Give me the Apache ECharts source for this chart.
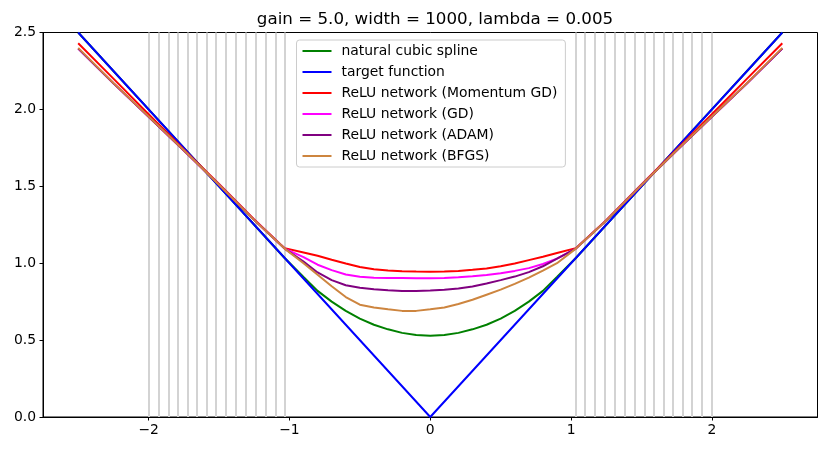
<!DOCTYPE html>
<html>
<head>
<meta charset="utf-8">
<script src="https://cdn.jsdelivr.net/npm/echarts@6/dist/echarts.min.js"></script>
<style>html,body{margin:0;padding:0;background:#fff}#c{width:826px;height:451px}</style>
</head>
<body>
<div id="c"></div>
<script>
const titleText = 'gain = 5.0, width = 1000, lambda = 0.005';
const xTicks = [-2, -1, 0, 1, 2];
const yTicks = [0, 0.5, 1.0, 1.5, 2.0, 2.5];
const knots = [-2, -1.931, -1.862, -1.793, -1.724, -1.655, -1.586, -1.517, -1.448, -1.379, -1.310, -1.241, -1.172, -1.103, -1.034,
  1.034, 1.103, 1.172, 1.241, 1.310, 1.379, 1.448, 1.517, 1.586, 1.655, 1.724, 1.793, 1.862, 1.931, 2];
const xs = [-2.5, -2.25, -2.0, -1.75, -1.5, -1.25, -1.034, -0.9, -0.8, -0.7, -0.6, -0.5, -0.4, -0.3, -0.2, -0.1, 0,
  0.1, 0.2, 0.3, 0.4, 0.5, 0.6, 0.7, 0.8, 0.9, 1.034, 1.25, 1.5, 1.75, 2.0, 2.25, 2.5];
const splineY = [2.5, 2.25, 2.0, 1.75, 1.5, 1.25, 1.034, 0.91, 0.82, 0.75, 0.69, 0.64, 0.60, 0.57, 0.547, 0.533, 0.529,
  0.533, 0.547, 0.57, 0.60, 0.64, 0.69, 0.75, 0.82, 0.91, 1.034, 1.25, 1.5, 1.75, 2.0, 2.25, 2.5];
const targetX = [-2.5, 0, 2.5];
const targetY = [2.5, 0, 2.5];
const momentumY = [2.43, 2.20, 1.968, 1.74, 1.515, 1.285, 1.098, 1.07, 1.048, 1.022, 0.998, 0.975, 0.96, 0.952, 0.948, 0.946, 0.945,
  0.946, 0.95, 0.957, 0.966, 0.98, 0.998, 1.02, 1.042, 1.066, 1.098, 1.28, 1.512, 1.74, 1.968, 2.20, 2.43];
const gdY = [2.395, 2.17, 1.952, 1.733, 1.51, 1.28, 1.095, 1.04, 0.99, 0.955, 0.927, 0.912, 0.906, 0.904, 0.903, 0.902, 0.902,
  0.904, 0.908, 0.915, 0.924, 0.935, 0.95, 0.968, 0.995, 1.03, 1.095, 1.278, 1.508, 1.733, 1.952, 2.17, 2.395];
const adamY = [2.395, 2.17, 1.952, 1.733, 1.51, 1.28, 1.095, 1.01, 0.94, 0.89, 0.857, 0.84, 0.83, 0.824, 0.82, 0.82, 0.822,
  0.827, 0.835, 0.848, 0.868, 0.89, 0.913, 0.942, 0.98, 1.03, 1.095, 1.278, 1.508, 1.733, 1.952, 2.17, 2.395];
const bfgsY = [2.40, 2.172, 1.954, 1.734, 1.51, 1.28, 1.095, 1.0, 0.925, 0.85, 0.78, 0.73, 0.712, 0.70, 0.69, 0.69, 0.70,
  0.712, 0.735, 0.762, 0.795, 0.828, 0.866, 0.906, 0.952, 1.0, 1.095, 1.278, 1.508, 1.734, 1.954, 2.172, 2.40];

const names = ['natural cubic spline', 'target function', 'ReLU network (Momentum GD)', 'ReLU network (GD)', 'ReLU network (ADAM)', 'ReLU network (BFGS)'];
const colors = ['#008000', '#0000ff', '#ff0000', '#ff00ff', '#800080', '#cd853f'];

const zip = (a, b) => a.map((v, i) => [v, b[i]]);
const seriesData = [zip(xs, splineY), zip(targetX, targetY), zip(xs, momentumY), zip(xs, gdY), zip(xs, adamY), zip(xs, bfgsY)];

const font = 'DejaVu Sans';
const fmt = v => (v < 0 ? '\u2212' + Math.abs(v) : String(v));

const chart = echarts.init(document.getElementById('c'), null, {renderer: 'canvas'});
const series = [{
  type: 'line', name: 'knots', data: [], silent: true, z: 1,
  markLine: {
    silent: true, animation: false, symbol: ['none', 'none'], label: {show: false}, z: 1,
    lineStyle: {color: '#d3d3d3', width: 2, type: 'solid'},
    emphasis: {disabled: true},
    data: knots.map(v => ({xAxis: v}))
  }
}];
seriesData.forEach((d, i) => {
  series.push({
    type: 'line', name: names[i], data: d, showSymbol: false, symbol: 'none',
    smooth: false,
    lineStyle: {color: colors[i], width: 2}, itemStyle: {color: colors[i]},
    z: 2 + i, emphasis: {disabled: true}, clip: true
  });
});

chart.setOption({
  animation: false,
  backgroundColor: '#fff',
  title: {
    text: titleText, left: 430, top: 6, textAlign: 'center',
    textStyle: {fontFamily: font, fontSize: 16.7, fontWeight: 'normal', color: '#000'}
  },
  grid: {left: 43, right: 8.5, top: 32.5, bottom: 34, show: true, borderColor: '#000', borderWidth: 1, backgroundColor: 'transparent'},
  legend: {
    data: names, orient: 'vertical', left: 296.5, top: 40,
    itemWidth: 29, itemHeight: 14, itemGap: 7,
    padding: [4, 8, 4, 5],
    itemStyle: {opacity: 0},
    lineStyle: {width: 2},
    backgroundColor: 'rgba(255,255,255,0.8)', borderColor: '#cccccc', borderWidth: 1, borderRadius: 3,
    textStyle: {fontFamily: font, fontSize: 13.9, color: '#000', padding: [0, 0, 0, 5]},
    selectedMode: false
  },
  xAxis: {
    type: 'value', min: -2.75, max: 2.75,
    axisLine: {show: true, onZero: false, lineStyle: {color: '#000', width: 1}},
    axisTick: {show: true, length: 3.5, lineStyle: {color: '#000'}, customValues: xTicks},
    axisLabel: {show: true, margin: 6, fontFamily: font, fontSize: 13.9, color: '#000', customValues: xTicks, formatter: fmt},
    splitLine: {show: false}
  },
  yAxis: {
    type: 'value', min: 0, max: 2.5, interval: 0.5,
    axisLine: {show: true, onZero: false, lineStyle: {color: '#000', width: 1}},
    axisTick: {show: true, length: 3.5, lineStyle: {color: '#000'}},
    axisLabel: {show: true, margin: 7, fontFamily: font, fontSize: 13.9, color: '#000', formatter: v => v.toFixed(1)},
    splitLine: {show: false}
  },
  series: series
});
</script>
</body>
</html>
